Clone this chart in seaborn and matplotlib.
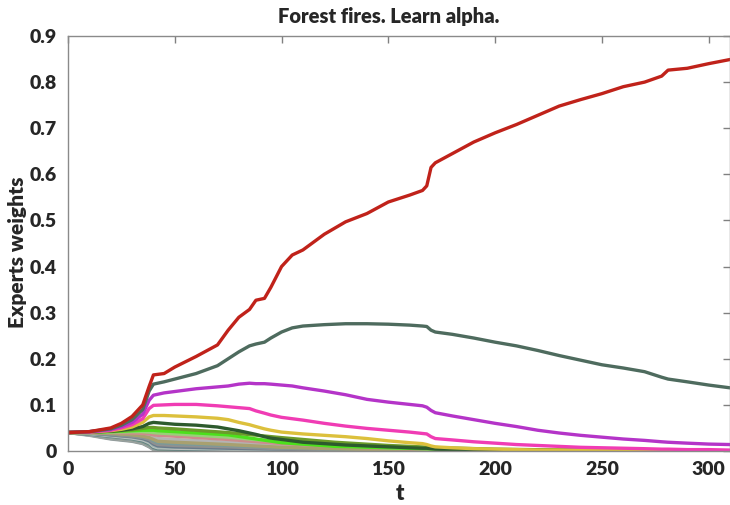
import numpy as np
import pandas as pd
import matplotlib
matplotlib.use("Agg")
import matplotlib.pyplot as plt
import seaborn as sns

# ---------------- data ----------------
t_main = [0, 10, 20, 25, 30, 35, 38, 40, 45, 50, 60, 70, 75, 80, 85, 88, 92, 95,
          100, 105, 110, 120, 130, 140, 150, 160, 166, 168, 170, 172, 180, 190,
          200, 210, 220, 230, 240, 250, 260, 270, 278, 281, 290, 300, 310]

w_red = [0.040, 0.042, 0.050, 0.060, 0.075, 0.100, 0.140, 0.165, 0.168, 0.182,
         0.205, 0.230, 0.262, 0.290, 0.307, 0.327, 0.331, 0.355, 0.400, 0.425,
         0.436, 0.470, 0.497, 0.515, 0.540, 0.555, 0.565, 0.575, 0.615, 0.625,
         0.645, 0.670, 0.690, 0.708, 0.728, 0.748, 0.762, 0.775, 0.790, 0.800,
         0.813, 0.826, 0.830, 0.840, 0.849]
w_gray = [0.040, 0.042, 0.048, 0.056, 0.068, 0.090, 0.130, 0.145, 0.150, 0.156,
          0.168, 0.185, 0.200, 0.215, 0.228, 0.232, 0.236, 0.245, 0.258, 0.267,
          0.271, 0.274, 0.276, 0.276, 0.275, 0.273, 0.271, 0.270, 0.262, 0.258,
          0.253, 0.245, 0.236, 0.228, 0.218, 0.207, 0.197, 0.187, 0.180, 0.172,
          0.160, 0.156, 0.150, 0.143, 0.137]
w_purple = [0.040, 0.042, 0.047, 0.053, 0.062, 0.080, 0.110, 0.121, 0.126, 0.129,
            0.135, 0.139, 0.141, 0.145, 0.147, 0.146, 0.146, 0.145, 0.143, 0.141,
            0.137, 0.130, 0.122, 0.112, 0.106, 0.101, 0.098, 0.095, 0.088, 0.083,
            0.076, 0.068, 0.060, 0.053, 0.045, 0.039, 0.034, 0.030, 0.026, 0.023,
            0.020, 0.019, 0.017, 0.015, 0.014]
w_pink = [0.040, 0.041, 0.045, 0.050, 0.057, 0.070, 0.092, 0.099, 0.100, 0.101,
          0.101, 0.098, 0.096, 0.094, 0.092, 0.087, 0.082, 0.078, 0.073, 0.070,
          0.067, 0.060, 0.054, 0.049, 0.045, 0.041, 0.038, 0.037, 0.031, 0.027,
          0.024, 0.020, 0.017, 0.014, 0.012, 0.010, 0.008, 0.007, 0.006, 0.005,
          0.004, 0.004, 0.003, 0.003, 0.002]
w_yellow = [0.040, 0.041, 0.044, 0.047, 0.052, 0.062, 0.074, 0.077, 0.077, 0.076,
            0.074, 0.071, 0.068, 0.062, 0.057, 0.053, 0.048, 0.045, 0.041, 0.039,
            0.037, 0.034, 0.031, 0.027, 0.022, 0.018, 0.016, 0.014, 0.011, 0.009,
            0.007, 0.005, 0.004, 0.003, 0.002, 0.002, 0.001, 0.001, 0.001, 0.001,
            0.001, 0.001, 0.000, 0.000, 0.000]
w_dkgreen = [0.040, 0.041, 0.043, 0.045, 0.048, 0.053, 0.060, 0.062, 0.060, 0.058,
             0.056, 0.052, 0.048, 0.044, 0.039, 0.036, 0.031, 0.028, 0.025, 0.022,
             0.019, 0.016, 0.013, 0.011, 0.009, 0.007, 0.006, 0.006, 0.005, 0.004,
             0.003, 0.002, 0.002, 0.001, 0.001, 0.001, 0.001, 0.000, 0.000, 0.000,
             0.000, 0.000, 0.000, 0.000, 0.000]

t_minor = [0, 10, 20, 30, 35, 38, 40, 42, 50, 75, 100, 125, 150, 175, 200, 250, 310]

w_olive = [0.040, 0.041, 0.043, 0.046, 0.049, 0.051, 0.051, 0.050, 0.048, 0.040, 0.029, 0.019, 0.012, 0.007, 0.004, 0.001, 0.000]
w_lime = [0.040, 0.041, 0.042, 0.044, 0.045, 0.045, 0.045, 0.044, 0.042, 0.035, 0.018, 0.010, 0.007, 0.004, 0.002, 0.001, 0.000]
w_ltgreen = [0.040, 0.040, 0.041, 0.042, 0.042, 0.041, 0.040, 0.039, 0.037, 0.030, 0.020, 0.012, 0.007, 0.004, 0.002, 0.001, 0.000]
w_rosy = [0.040, 0.040, 0.040, 0.039, 0.038, 0.037, 0.035, 0.034, 0.032, 0.025, 0.016, 0.010, 0.006, 0.003, 0.002, 0.001, 0.000]
w_khaki = [0.040, 0.040, 0.038, 0.035, 0.032, 0.029, 0.025, 0.021, 0.019, 0.014, 0.008, 0.005, 0.003, 0.001, 0.001, 0.000, 0.000]
w_ltgray = [0.040, 0.040, 0.039, 0.037, 0.035, 0.033, 0.030, 0.027, 0.025, 0.019, 0.012, 0.007, 0.004, 0.002, 0.001, 0.000, 0.000]
w_tan = [0.040, 0.040, 0.039, 0.036, 0.034, 0.031, 0.028, 0.025, 0.022, 0.017, 0.010, 0.006, 0.003, 0.002, 0.001, 0.000, 0.000]
w_tealgray = [0.040, 0.039, 0.037, 0.034, 0.031, 0.028, 0.022, 0.018, 0.016, 0.012, 0.007, 0.004, 0.002, 0.001, 0.001, 0.000, 0.000]
w_midgray = [0.040, 0.039, 0.036, 0.032, 0.029, 0.025, 0.018, 0.014, 0.012, 0.009, 0.005, 0.003, 0.002, 0.001, 0.000, 0.000, 0.000]
w_slate = [0.040, 0.039, 0.035, 0.031, 0.027, 0.022, 0.015, 0.011, 0.009, 0.006, 0.004, 0.002, 0.001, 0.001, 0.000, 0.000, 0.000]
w_ltteal = [0.040, 0.038, 0.034, 0.030, 0.026, 0.020, 0.012, 0.009, 0.008, 0.005, 0.003, 0.002, 0.001, 0.000, 0.000, 0.000, 0.000]
w_silver = [0.040, 0.038, 0.033, 0.028, 0.024, 0.018, 0.010, 0.007, 0.006, 0.004, 0.002, 0.001, 0.001, 0.000, 0.000, 0.000, 0.000]
w_dkteal = [0.040, 0.037, 0.032, 0.027, 0.022, 0.016, 0.008, 0.005, 0.004, 0.003, 0.002, 0.001, 0.000, 0.000, 0.000, 0.000, 0.000]
w_sage = [0.040, 0.037, 0.031, 0.026, 0.021, 0.014, 0.007, 0.004, 0.003, 0.002, 0.001, 0.000, 0.000, 0.000, 0.000, 0.000, 0.000]
w_bluegray = [0.040, 0.036, 0.030, 0.025, 0.020, 0.013, 0.006, 0.003, 0.002, 0.001, 0.001, 0.000, 0.000, 0.000, 0.000, 0.000, 0.000]
w_stone = [0.040, 0.036, 0.029, 0.024, 0.019, 0.012, 0.005, 0.003, 0.002, 0.001, 0.000, 0.000, 0.000, 0.000, 0.000, 0.000, 0.000]
w_ash = [0.040, 0.035, 0.028, 0.023, 0.018, 0.011, 0.004, 0.002, 0.001, 0.001, 0.000, 0.000, 0.000, 0.000, 0.000, 0.000, 0.000]
w_pewter = [0.040, 0.035, 0.027, 0.022, 0.017, 0.010, 0.004, 0.002, 0.001, 0.000, 0.000, 0.000, 0.000, 0.000, 0.000, 0.000, 0.000]
w_smoke = [0.040, 0.034, 0.026, 0.021, 0.016, 0.009, 0.003, 0.002, 0.001, 0.000, 0.000, 0.000, 0.000, 0.000, 0.000, 0.000, 0.000]

x_ticks = [0, 50, 100, 150, 200, 250, 300]
y_ticks = [0, 0.1, 0.2, 0.3, 0.4, 0.5, 0.6, 0.7, 0.8, 0.9]
y_tick_labels = ["0", "0.1", "0.2", "0.3", "0.4", "0.5", "0.6", "0.7", "0.8", "0.9"]

# ---------------- assemble ----------------
minor = [
    ("smoke", w_smoke, "#9aa5a5"), ("pewter", w_pewter, "#8c9696"),
    ("ash", w_ash, "#a8aca8"), ("stone", w_stone, "#98a090"),
    ("bluegray", w_bluegray, "#8898a8"), ("sage", w_sage, "#8ca08c"),
    ("dkteal", w_dkteal, "#5a8080"), ("silver", w_silver, "#c0c0c0"),
    ("ltteal", w_ltteal, "#a0b8b0"), ("slate", w_slate, "#6a7a8a"),
    ("midgray", w_midgray, "#909090"), ("tealgray", w_tealgray, "#7a9a9a"),
    ("tan", w_tan, "#b8a878"), ("ltgray", w_ltgray, "#b4b4b4"),
    ("khaki", w_khaki, "#a8a070"), ("rosy", w_rosy, "#cc8c8c"),
    ("ltgreen", w_ltgreen, "#98d078"), ("lime", w_lime, "#4ce01c"),
    ("olive", w_olive, "#6b9b2a"),
]
main = [
    ("dkgreen", w_dkgreen, "#2d5a2d"), ("yellow", w_yellow, "#dcc03c"),
    ("pink", w_pink, "#f03cb4"), ("purple", w_purple, "#b434c8"),
    ("gray", w_gray, "#4e6b5e"), ("red", w_red, "#c0221a"),
]

frames = []
palette = {}
order = []
for name, w, c in minor:
    frames.append(pd.DataFrame({"t": t_minor, "w": w, "expert": name}))
    palette[name] = c
    order.append(name)
for name, w, c in main:
    frames.append(pd.DataFrame({"t": t_main, "w": w, "expert": name}))
    palette[name] = c
    order.append(name)
df = pd.concat(frames, ignore_index=True)

# ---------------- plot ----------------
sns.set_style("white")
plt.rcParams["font.family"] = ["Lato", "DejaVu Sans"]

fig = plt.figure(figsize=(7.30, 5.05), dpi=100)
ax = fig.add_axes([68 / 730, 1 - 451 / 505, (730 - 68) / 730, (451 - 36) / 505])

sns.lineplot(data=df, x="t", y="w", hue="expert", hue_order=order,
             palette=palette, legend=False, linewidth=2.4, estimator=None,
             sort=False, ax=ax)

ax.set_xlim(0, 310)
ax.set_ylim(0, 0.9)
ax.set_xticks(x_ticks)
ax.set_yticks(y_ticks)
ax.set_yticklabels(y_tick_labels)
ax.tick_params(direction="in", length=5, width=1, color="#808080",
               labelsize=14, top=True, right=True)
ax.tick_params(axis="x", pad=7)
ax.tick_params(axis="y", pad=8)
for lab in ax.get_xticklabels() + ax.get_yticklabels():
    lab.set_fontweight("heavy")
for s in ax.spines.values():
    s.set_color("#8a8a8a")
    s.set_linewidth(1.0)

ax.set_xlabel("t", fontsize=16, fontweight="heavy")
ax.set_ylabel("Experts weights", fontsize=15, fontweight="heavy")
ax.xaxis.set_label_coords((400 - 68) / 662, -(483 - 451) / 415)
ax.yaxis.set_label_coords((27 - 68) / 662, (451 - 252) / 415)
fig.text(389 / 730, 1 - 17 / 505, "Forest fires. Learn alpha.", ha="center",
         va="center", fontsize=14.5, fontweight="heavy")

fig.savefig("out.png", dpi=100)
